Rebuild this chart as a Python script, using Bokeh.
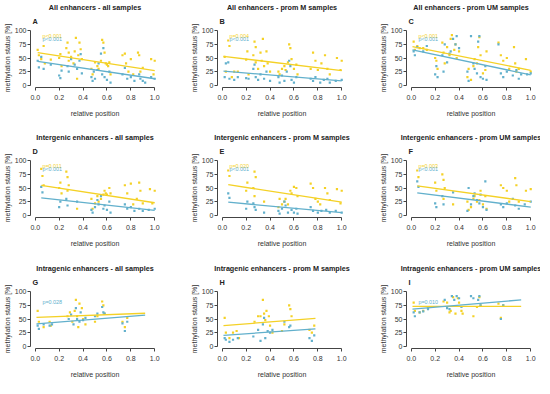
from bokeh.plotting import figure
from bokeh.models import Title, FixedTicker, PrintfTickFormatter, ColumnDataSource, Range1d
from bokeh.layouts import column, row
from bokeh.core.properties import value
from bokeh.embed import file_html
from bokeh.resources import INLINE

# ---------------- data ----------------
titles = ["All enhancers - all samples", "All enhancers - prom M samples", "All enhancers - prom UM samples",
          "Intergenic enhancers - all samples", "Intergenic enhancers - prom M samples", "Intergenic enhancers - prom UM samples",
          "Intragenic enhancers - all samples", "Intragenic enhancers - prom M samples", "Intragenic enhancers - prom UM samples"]
letters = ["A", "B", "C", "D", "E", "F", "G", "H", "I"]
x_ticks = [0.0, 0.2, 0.4, 0.6, 0.8, 1.0]
y_ticks = [0, 25, 50, 75, 100]

# yellow series (points)
yel_A_x = [0.02, 0.03, 0.05, 0.07, 0.08, 0.13, 0.2, 0.21, 0.22, 0.26, 0.27, 0.28, 0.28, 0.3, 0.32, 0.33, 0.34, 0.35, 0.36, 0.37, 0.38, 0.39, 0.47, 0.48, 0.5, 0.52, 0.53, 0.55, 0.56, 0.57, 0.58, 0.59, 0.6, 0.61, 0.62, 0.63, 0.73, 0.75, 0.76, 0.78, 0.8, 0.82, 0.86, 0.87, 0.88, 0.9, 0.97, 1.0, 0.99]
yel_A_y = [65, 55, 48, 72, 40, 47, 50, 57, 35, 68, 78, 60, 45, 52, 40, 62, 87, 12, 55, 78, 66, 48, 30, 20, 42, 35, 30, 45, 83, 78, 60, 40, 38, 35, 42, 20, 55, 58, 40, 25, 48, 20, 60, 55, 25, 32, 48, 45, 20]
blu_A_x = [0.02, 0.03, 0.05, 0.07, 0.13, 0.2, 0.21, 0.22, 0.27, 0.28, 0.3, 0.33, 0.35, 0.37, 0.38, 0.39, 0.47, 0.48, 0.49, 0.5, 0.52, 0.53, 0.55, 0.56, 0.57, 0.58, 0.6, 0.62, 0.63, 0.73, 0.75, 0.77, 0.8, 0.83, 0.87, 0.88, 0.9, 0.92, 0.97, 1.0]
blu_A_y = [45, 33, 52, 30, 38, 18, 13, 27, 35, 25, 48, 38, 30, 45, 57, 22, 15, 8, 25, 12, 28, 40, 58, 20, 68, 15, 10, 25, 5, 20, 32, 12, 15, 8, 20, 12, 8, 5, 15, 12]

yel_B_x = [0.02, 0.03, 0.05, 0.06, 0.08, 0.1, 0.13, 0.2, 0.21, 0.22, 0.26, 0.27, 0.28, 0.28, 0.3, 0.32, 0.33, 0.34, 0.35, 0.37, 0.38, 0.4, 0.47, 0.48, 0.5, 0.52, 0.53, 0.55, 0.56, 0.57, 0.58, 0.6, 0.62, 0.63, 0.74, 0.76, 0.78, 0.8, 0.83, 0.86, 0.88, 0.9, 0.96, 1.0, 0.99]
yel_B_y = [52, 25, 82, 72, 15, 25, 25, 47, 62, 20, 55, 80, 70, 42, 30, 60, 45, 85, 35, 62, 40, 25, 25, 20, 30, 35, 28, 42, 75, 68, 48, 30, 38, 20, 30, 60, 45, 28, 40, 55, 30, 20, 50, 45, 28]
blu_B_x = [0.02, 0.03, 0.05, 0.06, 0.1, 0.13, 0.2, 0.22, 0.26, 0.27, 0.28, 0.3, 0.32, 0.35, 0.37, 0.4, 0.47, 0.48, 0.5, 0.52, 0.54, 0.56, 0.57, 0.58, 0.6, 0.62, 0.74, 0.76, 0.78, 0.82, 0.85, 0.88, 0.9, 0.95, 1.0]
blu_B_y = [15, 40, 42, 12, 10, 15, 13, 12, 30, 38, 15, 10, 20, 12, 25, 8, 15, 5, 18, 8, 25, 45, 35, 10, 5, 15, 12, 8, 15, 5, 10, 12, 5, 8, 10]

yel_C_x = [0.02, 0.03, 0.05, 0.07, 0.1, 0.13, 0.2, 0.21, 0.22, 0.26, 0.27, 0.28, 0.3, 0.32, 0.33, 0.34, 0.36, 0.37, 0.38, 0.4, 0.47, 0.48, 0.5, 0.52, 0.53, 0.55, 0.56, 0.57, 0.58, 0.6, 0.62, 0.63, 0.73, 0.75, 0.77, 0.8, 0.82, 0.86, 0.87, 0.88, 0.9, 0.96, 1.0]
yel_C_y = [80, 65, 72, 68, 68, 65, 50, 45, 30, 78, 60, 40, 70, 55, 85, 92, 65, 75, 50, 62, 15, 30, 10, 35, 48, 40, 70, 88, 55, 22, 28, 62, 78, 55, 45, 50, 30, 70, 40, 25, 30, 48, 25]
blu_C_x = [0.02, 0.03, 0.05, 0.1, 0.13, 0.2, 0.21, 0.22, 0.26, 0.27, 0.28, 0.3, 0.32, 0.33, 0.35, 0.37, 0.38, 0.4, 0.47, 0.48, 0.5, 0.52, 0.53, 0.55, 0.56, 0.57, 0.58, 0.6, 0.62, 0.63, 0.73, 0.75, 0.77, 0.8, 0.85, 0.88, 0.9, 0.92, 0.97, 1.0]
blu_C_y = [62, 55, 70, 62, 72, 20, 35, 15, 55, 25, 75, 42, 58, 62, 85, 75, 90, 68, 25, 8, 90, 40, 30, 22, 80, 90, 15, 12, 35, 10, 75, 22, 15, 25, 18, 28, 12, 20, 20, 22]

yel_D_x = [0.05, 0.06, 0.07, 0.2, 0.21, 0.22, 0.26, 0.27, 0.28, 0.27, 0.35, 0.47, 0.48, 0.5, 0.52, 0.53, 0.55, 0.57, 0.58, 0.59, 0.6, 0.62, 0.63, 0.75, 0.77, 0.8, 0.82, 0.85, 0.87, 0.88, 0.9, 0.96, 1.0, 0.98]
yel_D_y = [85, 72, 55, 50, 60, 40, 80, 70, 55, 45, 12, 30, 12, 22, 35, 25, 30, 38, 45, 40, 38, 50, 40, 55, 40, 58, 20, 30, 60, 45, 22, 48, 45, 22]
blu_D_x = [0.05, 0.06, 0.2, 0.21, 0.26, 0.27, 0.35, 0.47, 0.48, 0.5, 0.52, 0.53, 0.55, 0.57, 0.58, 0.6, 0.62, 0.63, 0.75, 0.77, 0.8, 0.83, 0.87, 0.9, 0.95, 1.0]
blu_D_y = [52, 42, 15, 25, 30, 18, 25, 10, 5, 15, 28, 20, 35, 12, 18, 10, 25, 5, 20, 12, 15, 8, 12, 8, 10, 12]

yel_E_x = [0.05, 0.06, 0.2, 0.21, 0.26, 0.27, 0.28, 0.27, 0.35, 0.47, 0.48, 0.5, 0.52, 0.53, 0.55, 0.57, 0.58, 0.6, 0.62, 0.63, 0.74, 0.76, 0.78, 0.8, 0.82, 0.86, 0.88, 0.9, 0.96, 1.0, 0.99]
yel_E_y = [82, 72, 45, 60, 50, 80, 70, 35, 25, 15, 30, 20, 25, 30, 20, 45, 40, 52, 50, 35, 58, 50, 30, 25, 20, 50, 40, 28, 48, 45, 22]
blu_E_x = [0.05, 0.06, 0.2, 0.21, 0.26, 0.27, 0.28, 0.35, 0.47, 0.48, 0.5, 0.52, 0.53, 0.55, 0.58, 0.6, 0.62, 0.63, 0.74, 0.76, 0.8, 0.83, 0.87, 0.9, 0.95, 1.0]
blu_E_y = [40, 32, 12, 25, 22, 15, 10, 5, 8, 3, 12, 25, 18, 5, 10, 5, 12, 3, 15, 8, 5, 8, 10, 5, 8, 5]

yel_F_x = [0.05, 0.06, 0.2, 0.21, 0.26, 0.27, 0.28, 0.27, 0.35, 0.47, 0.48, 0.5, 0.52, 0.53, 0.55, 0.57, 0.58, 0.6, 0.62, 0.63, 0.75, 0.77, 0.8, 0.82, 0.87, 0.88, 0.9, 0.96, 1.0]
yel_F_y = [82, 70, 60, 45, 75, 65, 50, 30, 20, 25, 10, 15, 30, 35, 25, 28, 45, 20, 35, 12, 55, 50, 45, 25, 68, 55, 25, 45, 48]
blu_F_x = [0.05, 0.06, 0.2, 0.21, 0.26, 0.27, 0.35, 0.47, 0.48, 0.5, 0.52, 0.53, 0.55, 0.57, 0.58, 0.6, 0.62, 0.63, 0.75, 0.77, 0.8, 0.85, 0.87, 0.9, 0.95, 1.0]
blu_F_y = [62, 52, 22, 15, 35, 20, 42, 8, 50, 20, 35, 40, 28, 22, 38, 15, 62, 10, 20, 15, 22, 30, 18, 12, 20, 25]

yel_G_x = [0.02, 0.03, 0.07, 0.12, 0.13, 0.27, 0.29, 0.31, 0.33, 0.34, 0.35, 0.36, 0.37, 0.39, 0.4, 0.42, 0.5, 0.52, 0.56, 0.57, 0.58, 0.73, 0.75, 0.77]
yel_G_y = [65, 45, 35, 45, 38, 55, 62, 45, 65, 85, 55, 35, 78, 70, 50, 40, 45, 55, 82, 75, 60, 45, 35, 52]
blu_G_x = [0.02, 0.03, 0.07, 0.12, 0.14, 0.28, 0.3, 0.32, 0.34, 0.35, 0.37, 0.38, 0.4, 0.42, 0.5, 0.52, 0.56, 0.57, 0.58, 0.73, 0.75, 0.77]
blu_G_y = [38, 32, 40, 38, 40, 50, 58, 40, 70, 50, 45, 62, 48, 52, 55, 60, 72, 62, 60, 42, 28, 45]

yel_H_x = [0.02, 0.03, 0.06, 0.09, 0.12, 0.14, 0.27, 0.3, 0.32, 0.34, 0.35, 0.36, 0.37, 0.39, 0.4, 0.42, 0.5, 0.52, 0.56, 0.57, 0.58, 0.73, 0.75, 0.77]
yel_H_y = [52, 25, 15, 25, 28, 15, 45, 55, 55, 85, 60, 48, 65, 55, 38, 25, 28, 40, 75, 68, 55, 30, 25, 38]
blu_H_x = [0.02, 0.03, 0.06, 0.09, 0.13, 0.26, 0.3, 0.32, 0.34, 0.35, 0.36, 0.38, 0.4, 0.42, 0.52, 0.56, 0.57, 0.73, 0.75, 0.77]
blu_H_y = [15, 12, 8, 12, 15, 18, 30, 10, 40, 52, 15, 28, 25, 30, 45, 35, 38, 15, 10, 20]

yel_I_x = [0.02, 0.03, 0.07, 0.1, 0.14, 0.27, 0.3, 0.32, 0.33, 0.35, 0.37, 0.39, 0.4, 0.42, 0.43, 0.52, 0.55, 0.57, 0.58, 0.73, 0.75, 0.77]
yel_I_y = [80, 65, 62, 65, 70, 82, 80, 62, 65, 90, 60, 88, 80, 65, 60, 55, 72, 90, 75, 78, 52, 75]
blu_I_x = [0.02, 0.03, 0.07, 0.1, 0.14, 0.28, 0.3, 0.32, 0.34, 0.36, 0.38, 0.4, 0.42, 0.5, 0.52, 0.56, 0.57, 0.58, 0.75, 0.77]
blu_I_y = [62, 55, 62, 64, 68, 85, 70, 68, 92, 85, 92, 88, 72, 92, 88, 85, 92, 75, 50, 75]

# regression lines: [x_start, x_end] and fitted values at these x
fit_x = [[0.02, 1.0], [0.01, 1.0], [0.01, 1.0], [0.05, 1.0], [0.05, 1.0], [0.05, 1.0], [0.01, 0.92], [0.01, 0.78], [0.01, 0.92]]
fit_yel = [[60, 27], [53, 27], [71, 27.5], [55, 23], [56, 24], [54, 25], [53, 60.5], [38, 51], [73, 73]]
fit_blu = [[44, 12], [26, 8], [65, 19], [32, 9], [24, 5], [41, 15], [41, 57], [20, 32], [68, 85]]

# p-value labels ("" = none)
p_yel = ["p<0.001", "p=0.004", "p<0.001", "p=0.011", "p=0.020", "p=0.003", "", "", ""]
p_blu = ["p<0.001", "p<0.001", "p<0.001", "p<0.001", "p<0.001", "p<0.001", "p=0.028", "", "p=0.010"]

yel_x = [yel_A_x, yel_B_x, yel_C_x, yel_D_x, yel_E_x, yel_F_x, yel_G_x, yel_H_x, yel_I_x]
yel_y = [yel_A_y, yel_B_y, yel_C_y, yel_D_y, yel_E_y, yel_F_y, yel_G_y, yel_H_y, yel_I_y]
blu_x = [blu_A_x, blu_B_x, blu_C_x, blu_D_x, blu_E_x, blu_F_x, blu_G_x, blu_H_x, blu_I_x]
blu_y = [blu_A_y, blu_B_y, blu_C_y, blu_D_y, blu_E_y, blu_F_y, blu_G_y, blu_H_y, blu_I_y]

# ---------------- style ----------------
YEL = "#F4D126"
BLU = "#62B0CC"
FONT = "Liberation Sans"
TXT = "#333333"

border_left = [27, 29, 28]
border_right = [28, 30, 5]
border_top = [26, 31, 31]
border_bottom = [40, 41, 32]
title_offset = [0, 0, 4]


def make_panel(i):
    r, c = divmod(i, 3)
    p = figure(frame_width=129, frame_height=59,
               min_border_left=border_left[c], min_border_right=border_right[c],
               min_border_top=border_top[r], min_border_bottom=border_bottom[r],
               x_range=Range1d(-0.04, 1.04), y_range=Range1d(-4, 104),
               output_backend="svg", toolbar_location=None, title=None)
    p.outline_line_color = None
    p.xgrid.visible = False
    p.ygrid.visible = False
    p.background_fill_color = "white"
    p.border_fill_color = "white"

    p.add_layout(Title(text=letters[i], align="left", offset=2, standoff=5,
                       text_font=FONT, text_font_size="7.3px", text_font_style="bold",
                       text_color="#222222"), "above")
    p.add_layout(Title(text=titles[i], align="center", standoff=1, offset=title_offset[c],
                       text_font=FONT, text_font_size="7.2px", text_font_style="bold",
                       text_color="#222222"), "above")

    for ax in (p.xaxis[0], p.yaxis[0]):
        ax.axis_line_color = "#444444"
        ax.major_tick_line_color = "#444444"
        ax.major_tick_out = 3
        ax.major_tick_in = 0
        ax.minor_tick_line_color = None
        ax.major_label_text_font = FONT
        ax.major_label_text_font_size = "7px"
        ax.major_label_text_color = TXT
        ax.axis_label_text_font = FONT
        ax.axis_label_text_font_size = "7px"
        ax.axis_label_text_font_style = "normal"
        ax.axis_label_text_color = TXT

    p.xaxis.ticker = FixedTicker(ticks=x_ticks)
    p.xaxis.formatter = PrintfTickFormatter(format="%.1f")
    p.xaxis.bounds = (x_ticks[0], x_ticks[-1])
    p.xaxis.axis_label = "relative position"
    p.xaxis.major_label_standoff = 4
    p.xaxis.axis_label_standoff = 7

    p.yaxis.ticker = FixedTicker(ticks=y_ticks)
    p.yaxis.bounds = (y_ticks[0], y_ticks[-1])
    p.yaxis.axis_label = "methylation status [%]"
    p.yaxis.major_label_orientation = "horizontal"
    p.yaxis.major_label_standoff = 1
    p.yaxis.axis_label_standoff = 1

    p.scatter(x=yel_x[i], y=yel_y[i], marker="square", size=2.2, color=YEL, line_width=0)
    p.scatter(x=blu_x[i], y=blu_y[i], marker="square", size=2.2, color=BLU, line_width=0)
    p.line(x=fit_x[i], y=fit_yel[i], color=YEL, line_width=1.3)
    p.line(x=fit_x[i], y=fit_blu[i], color=BLU, line_width=1.3)

    lab_x, lab_y, lab_t, lab_c = [], [], [], []
    if p_yel[i]:
        lab_x.append(0.06); lab_y.append(91); lab_t.append(p_yel[i]); lab_c.append(YEL)
        if p_blu[i]:
            lab_x.append(0.06); lab_y.append(84); lab_t.append(p_blu[i]); lab_c.append(BLU)
    elif p_blu[i]:
        lab_x.append(0.06); lab_y.append(81); lab_t.append(p_blu[i]); lab_c.append(BLU)
    if lab_t:
        src = ColumnDataSource(dict(x=lab_x, y=lab_y, t=lab_t, c=lab_c))
        p.text(x="x", y="y", text="t", text_color="c", source=src,
               text_font=value(FONT), text_font_size="5.4px",
               text_align="left", text_baseline="middle")
    return p


panels = [make_panel(i) for i in range(9)]
layout = column(row(panels[0:3], spacing=0), row(panels[3:6], spacing=0),
                row(panels[6:9], spacing=0), spacing=0)

open("out.html", "w").write(file_html(layout, INLINE))
